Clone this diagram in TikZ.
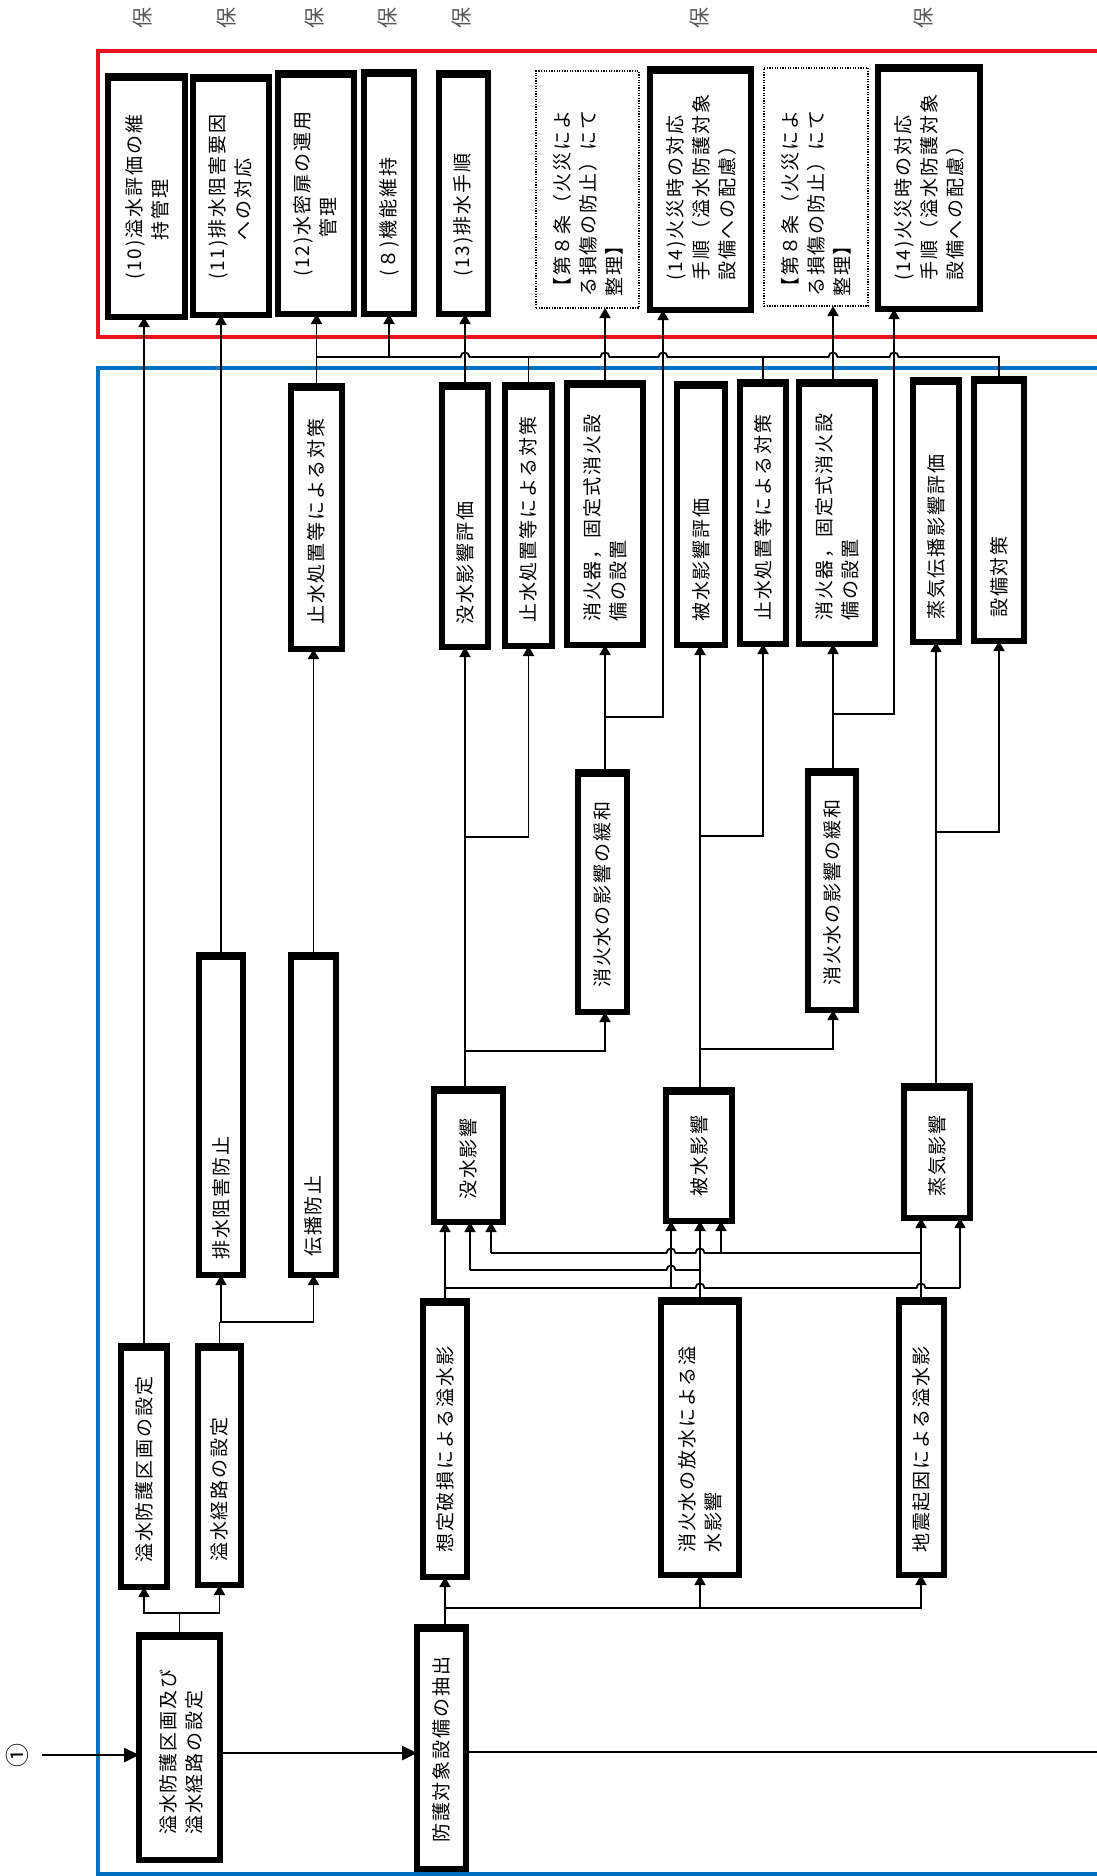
\documentclass[tikz,border=0pt]{standalone}
\usepackage{fontspec}
\newfontfamily\jp[LetterSpace=10]{Noto Sans CJK JP}
\newfontfamily\jpn{Noto Sans CJK JP}
\usetikzlibrary{arrows.meta}
\definecolor{framered}{RGB}{235,20,30}
\definecolor{frameblue}{RGB}{0,112,192}
\newcommand\bx[6]{\node[#1, minimum width={#5-#3-6}, minimum height={#6-#4-6}] (#2) at ({(#3+#5)/2},{(#4+#6)/2}) {};}
\newcommand\tx[4]{\node[txt] (#1) at (#2,#3) {#4};}
\newcommand\hop[2]{-- ({#1-4.5},#2) .. controls ({#1-4.5},{#2-6}) and ({#1+4.5},{#2-6}) .. ({#1+4.5},#2)}
\begin{document}
\begin{tikzpicture}[x=1pt,y=-1pt,
  box/.style={draw, line width=6pt, inner sep=0pt, outer sep=0pt},
  dbox/.style={draw, line width=2pt, dash pattern=on 1.3pt off 1.3pt, inner sep=0pt, outer sep=0pt},
  txt/.style={rotate=90, anchor=west, align=left, inner sep=0pt, font=\jp\fontsize{19}{26}\selectfont},
  con/.style={line width=1.8pt},
  arr/.style={con, -{Triangle[length=10pt,width=11pt]}},
  bigarr/.style={line width=2.6pt, -{Triangle[length=15pt,width=14pt]}},
  ho/.style={rotate=90, font=\jpn\fontsize{21}{21}\selectfont, text=black!65, inner sep=0pt},
]
\useasboundingbox (0,0) rectangle (1097,1876);
\fill[white] (0,0) rectangle (1097,1876);

% frames
\draw[framered, line width=4.5pt] (1110,51) -- (98,51) -- (98,337) -- (1110,337);
\draw[frameblue, line width=4.5pt] (1110,368) -- (98,368) -- (98,1874) -- (1110,1874);

% top characters
\foreach \x [count=\i] in {143,227,315,388,462,700,924} \node[ho] (h\i) at (\x,18) {保};

% red area boxes
\bx{box}{r1}{105}{73}{188}{320}
\bx{box}{r2}{190}{74}{272}{318}
\bx{box}{r3}{275}{70}{357}{317}
\bx{box}{r4}{361}{69}{417}{317}
\bx{box}{r5}{436}{70}{491}{317}
\bx{dbox}{r6}{533}{68}{642}{311}
\bx{box}{r7}{647}{66}{754}{313}
\bx{dbox}{r8}{761}{65}{871}{309}
\bx{box}{r9}{875}{64}{983}{312}

% blue area boxes
\bx{box}{b1}{288}{383}{345}{652}
\bx{box}{b2}{439}{382}{491}{650}
\bx{box}{b3}{502}{382}{555}{649}
\bx{box}{b4}{564}{380}{646}{648}
\bx{box}{b5}{674}{381}{728}{648}
\bx{box}{b6}{737}{379}{789}{647}
\bx{box}{b7}{796}{379}{878}{647}
\bx{box}{b8}{910}{377}{962}{645}
\bx{box}{b9}{971}{376}{1027}{644}
\bx{box}{m1}{575}{769}{630}{1015}
\bx{box}{m2}{805}{768}{859}{1013}
\bx{box}{m3}{196}{952}{246}{1278}
\bx{box}{m4}{288}{952}{339}{1278}
\bx{box}{m5}{431}{1086}{506}{1225}
\bx{box}{m6}{663}{1087}{735}{1224}
\bx{box}{m7}{901}{1083}{973}{1221}
\bx{box}{l1}{118}{1343}{170}{1590}
\bx{box}{l2}{195}{1343}{244}{1588}
\bx{box}{l3}{420}{1298}{470}{1580}
\bx{box}{l4}{658}{1297}{742}{1578}
\bx{box}{l5}{896}{1297}{947}{1578}
\bx{box}{s1}{136}{1632}{223}{1863}
\bx{box}{s2}{414}{1624}{469}{1872}

\foreach \n in {r1,r2,r3,r4,r5,r7,r9,b1,b2,b3,b4,b5,b6,b7,b8,b9,m1,m2,m3,m4,m5,m6,m7,l1,l2,l3,l4,l5,s1,s2}
  \fill ([shift={(-3pt,3pt)}]\n.north west) rectangle ([shift={(3pt,-5pt)}]\n.north east);

% texts
\tx{t-r1}{148}{280}{(10)溢水評価の維\\\phantom{(10)}持管理}
\tx{t-r2}{231}{280}{(11)排水阻害要因\\\phantom{(11)}への対応}
\tx{t-r3}{316}{277}{(12)水密扉の運用\\\phantom{(12)}管理}
\tx{t-r4}{389}{277}{(８)機能維持}
\tx{t-r5}{463.5}{277}{(13)排水手順}
\tx{t-r6}{588}{297}{【第８条（火災によ\\る損傷の防止）にて\\整理】}
\tx{t-r7}{701}{281}{(14)火災時の対応\\手順（溢水防護対象\\設備への配慮）}
\tx{t-r8}{816}{297}{【第８条（火災によ\\る損傷の防止）にて\\整理】}
\tx{t-r9}{929}{281}{(14)火災時の対応\\手順（溢水防護対象\\設備への配慮）}

\tx{t-b1}{316.5}{625}{止水処置等による対策}
\tx{t-b2}{465}{625}{没水影響評価}
\tx{t-b3}{528.5}{623}{止水処置等による対策}
\tx{t-b4}{605}{622}{消火器，固定式消火設\\備の設置}
\tx{t-b5}{701}{622}{被水影響評価}
\tx{t-b6}{763}{621}{止水処置等による対策}
\tx{t-b7}{837}{621}{消火器，固定式消火設\\備の設置}
\tx{t-b8}{936}{620}{蒸気伝播影響評価}
\tx{t-b9}{999}{618}{設備対策}
\tx{t-m1}{602.5}{988}{消火水の影響の緩和}
\tx{t-m2}{832}{986}{消火水の影響の緩和}
\tx{t-m3}{221}{1260}{排水阻害防止}
\tx{t-m4}{313.5}{1257}{伝播防止}
\tx{t-m5}{468.5}{1200}{没水影響}
\tx{t-m6}{699}{1197}{被水影響}
\tx{t-m7}{937}{1197}{蒸気影響}
\tx{t-l1}{144}{1563}{溢水防護区画の設定}
\tx{t-l2}{219.5}{1562}{溢水経路の設定}
\tx{t-l3}{445}{1553}{想定破損による溢水影}
\tx{t-l4}{700}{1553}{消火水の放水による溢\\水影響}
\tx{t-l5}{921.5}{1553}{地震起因による溢水影}
\tx{t-s1}{181}{1835}{溢水防護区画及び\\溢水経路の設定}
\tx{t-s2}{441.5}{1843}{防護対象設備の抽出}

% connectors to red area
\draw[arr] (l1.north) -- (l1.north |- r1.south);
\draw[con] (l2.north) -- (l2.north |- 0,1322);
\draw[arr] (l2.north |- 0,1322) -| (m3.south);
\draw[arr] (l2.north |- 0,1322) -| (m4.south);
\draw[arr] (m3.north) -- (m3.north |- r2.south);
\draw[arr] (m4.north) -- (m4.north |- b1.south);
\draw[arr] (b1.north) -- (b1.north |- r3.south);
\draw[con] (b1.north |- 0,357) \hop{465}{357} \hop{605}{357} \hop{663}{357} \hop{833}{357} \hop{894}{357} -- (b9.north |- 0,357) -- (b9.north);
\draw[arr] (r4.south |- 0,357) -- (r4.south);
\draw[con] (b3.north) -- (b3.north |- 0,357);
\draw[con] (b6.north) -- (b6.north |- 0,357);
\draw[arr] (465,0 |- b2.north) -- (465,0 |- r5.south);
\draw[arr] (605,0 |- b4.north) -- (605,0 |- r6.south);
\draw[arr] (833,0 |- b7.north) -- (833,0 |- r8.south);

% middle
\draw[arr] (605,0 |- m1.north) -- (605,0 |- b4.south);
\draw[arr] (605,717) -- (663,717) -- (663,0 |- r7.south);
\draw[arr] (833,0 |- m2.north) -- (833,0 |- b7.south);
\draw[arr] (833,714) -- (894,714) -- (894,0 |- r9.south);
\draw[arr] (465,0 |- m5.north) -- (465,0 |- b2.south);
\draw[arr] (465,837) -| (b3.south);
\draw[arr] (465,1051) -| (605,0 |- m1.south);
\draw[arr] (700,0 |- m6.north) -- (700,0 |- b5.south);
\draw[arr] (700,836) -| (b6.south);
\draw[arr] (700,1049) -| (833,0 |- m2.south);
\draw[arr] (936,0 |- m7.north) -- (936,0 |- b8.south);
\draw[arr] (936,832) -| (b9.south);

% bottom crossings
\draw[arr] (445,0 |- l3.north) -- (445,0 |- m5.south);
\draw[con] (445,1288) \hop{700}{1288} \hop{921}{1288} -- (960,1288);
\draw[arr] (960,1288) -- (960,0 |- m7.south);
\draw[arr] (671,1288) -- (671,0 |- m6.south);
\draw[arr] (700,0 |- l4.north) -- (700,0 |- m6.south);
\draw[con] (470,1270) \hop{671}{1270} -- (700,1270);
\draw[arr] (470,1270) -- (470,0 |- m5.south);
\draw[arr] (921,0 |- l5.north) -- (921,0 |- m7.south);
\draw[con] (491,1253) \hop{671}{1253} \hop{700}{1253} -- (921,1253);
\draw[arr] (491,1253) -- (491,0 |- m5.south);
\draw[arr] (721,1253) -- (721,0 |- m6.south);

% bottom junctions
\draw[arr] (s1.north) -- (s1.north |- 0,1613) -| (l1.south);
\draw[arr] (s1.north |- 0,1613) -| (l2.south);
\draw[arr] (445,0 |- s2.north) -- (445,1608) -- (445,0 |- l3.south);
\draw[arr] (445,1608) -| (700,0 |- l4.south);
\draw[arr] (445,1608) -| (921,0 |- l5.south);

% main flow
\node[rotate=90, font=\jpn\fontsize{24}{24}\selectfont, inner sep=0pt] (c1) at (17,1755) {①};
\coordinate (in) at (42,1755);
\coordinate (out) at (1100,1752);
\draw[bigarr] (in) -- (in -| s1.west);
\draw[bigarr] (s1.east |- 0,1753) -- (s2.west |- 0,1753);
\draw[line width=2.6pt] (s2.east |- out) -- (out);
\end{tikzpicture}
\end{document}
